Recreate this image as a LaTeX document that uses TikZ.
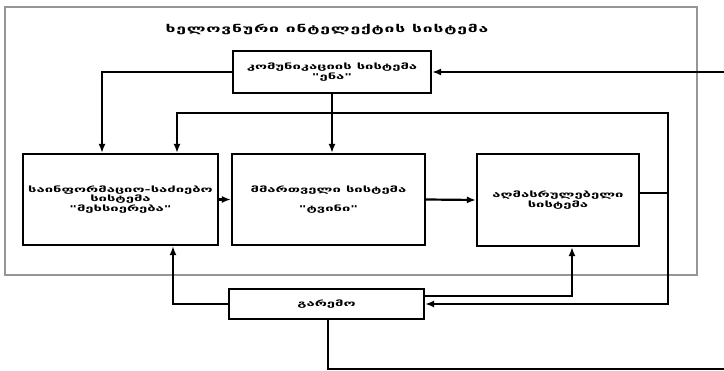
\documentclass[tikz,border=0pt]{standalone}
\usepackage{fontspec}
\newfontfamily\geo[FakeStretch=1.85]{DejaVu Sans Bold}
\newfontfamily\geotitle[FakeStretch=1.75,LetterSpace=8]{DejaVu Sans Bold}
\usetikzlibrary{arrows.meta}
\begin{document}
\begin{tikzpicture}[x=1pt,y=-1pt,
  box/.style={draw=black,line width=2.2pt,inner sep=0pt,align=center,font=\geo\fontsize{8}{9.5}\selectfont},
  conn/.style={draw=black,line width=2.2pt},
  arr/.style={conn,-{Latex[length=9pt,width=7pt]}},
  arrs/.style={conn,{Latex[length=9pt,width=7pt]}-{Latex[length=9pt,width=7pt]}}]
\useasboundingbox (0,0) rectangle (724,371);
\node[draw={rgb,255:red,150;green,150;blue,150},line width=1.2pt,minimum width=692pt,minimum height=268pt,inner sep=0pt] (frame) at (351,141) {};
\node[font=\geotitle\fontsize{10}{12}\selectfont] (title) at (327,30) {ხელოვნური ინტელექტის სისტემა};
\node[box,minimum width=198pt,minimum height=42pt] (top) at (332,72) {კომუნიკაციის სისტემა\\"ენა"};
\node[box,minimum width=195pt,minimum height=91pt] (left) at (120.5,199.5) {საინფორმაციო-საძიებო\\სისტემა\\"მეხსიერება"};
\node[box,minimum width=193pt,minimum height=91pt] (mid) at (328.5,199.5) {მმართველი სისტემა\\[10pt]"ტვინი"};
\node[box,minimum width=162pt,minimum height=92pt] (right) at (558,200) {აღმასრულებელი\\სისტემა};
\node[box,minimum width=195pt,minimum height=30pt] (env) at (326.5,304) {გარემო};
\coordinate (c1) at (102,0);
\coordinate (busR) at (668,113);
\coordinate (busL) at (177,113);
\coordinate (rb) at (668,193);
\coordinate (c6) at (173,0);
\coordinate (c7) at (572,0);
\coordinate (c8) at (328,0);
\coordinate (e8) at (724,369);
\coordinate (e9) at (724,72);
\draw[arr] (top.west) -| (left.north -| c1);
\draw[arrs] (env.east) -| (busR) -- (busL) -- (left.north -| busL);
\draw[conn] (right.east |- rb) -- (rb);
\draw[arr] (top.south) -- (mid.north -| top.south);
\draw[arr] (left.east) -- (mid.west);
\draw[arr] (mid.east) -- (right.west);
\draw[arr] (env.west) -| (left.south -| c6);
\draw[arr] ([yshift=8pt]env.east) -| (right.south -| c7);
\draw[conn] (env.south -| c8) |- (e8);
\draw[arr] (e9) -- (top.east);
\end{tikzpicture}
\end{document}
